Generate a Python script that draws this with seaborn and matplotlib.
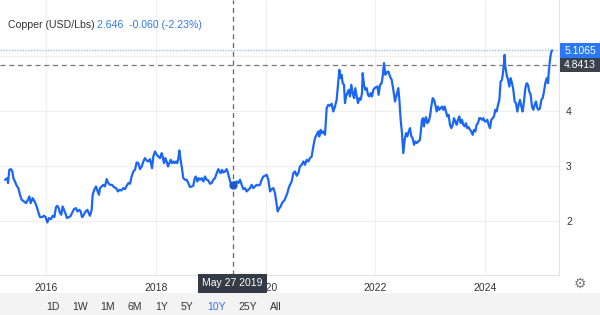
import matplotlib
matplotlib.use("Agg")
import matplotlib.pyplot as plt
import matplotlib.patches as mpatches
import seaborn as sns
import pandas as pd

# ---------------- data (decimal year, USD/lb) ----------------
years = [
    2015.253, 2015.296, 2015.308, 2015.332, 2015.362, 2015.387, 2015.405, 2015.435, 2015.466, 2015.496,
    2015.526, 2015.557, 2015.599, 2015.636, 2015.672, 2015.696, 2015.721, 2015.757, 2015.793, 2015.830,
    2015.866, 2015.891, 2015.927, 2015.963, 2015.994, 2016.024, 2016.055, 2016.091, 2016.121, 2016.152,
    2016.182, 2016.206, 2016.231, 2016.255, 2016.279, 2016.303, 2016.328, 2016.352, 2016.382, 2016.413,
    2016.443, 2016.474, 2016.510, 2016.546, 2016.571, 2016.607, 2016.631, 2016.656, 2016.680, 2016.716,
    2016.753, 2016.777, 2016.801, 2016.832, 2016.850, 2016.880, 2016.911, 2016.941, 2016.965, 2016.983,
    2017.014, 2017.044, 2017.074, 2017.105, 2017.135, 2017.166, 2017.202, 2017.238, 2017.275, 2017.311,
    2017.336, 2017.372, 2017.408, 2017.439, 2017.469, 2017.500, 2017.530, 2017.560, 2017.591, 2017.621,
    2017.651, 2017.682, 2017.712, 2017.743, 2017.773, 2017.803, 2017.834, 2017.864, 2017.894,
    2017.931, 2017.955, 2017.985, 2018.016, 2018.046, 2018.076, 2018.107, 2018.125, 2018.149, 2018.173,
    2018.198, 2018.222, 2018.246, 2018.271, 2018.295, 2018.319, 2018.343, 2018.368, 2018.392, 2018.416,
    2018.428, 2018.447, 2018.471, 2018.501, 2018.532, 2018.562, 2018.592, 2018.623, 2018.653, 2018.683,
    2018.702, 2018.726, 2018.756, 2018.780, 2018.805, 2018.835, 2018.866, 2018.896, 2018.926, 2018.957,
    2018.987, 2019.017, 2019.048, 2019.078, 2019.109, 2019.139, 2019.157, 2019.181, 2019.206, 2019.230,
    2019.260, 2019.291, 2019.315, 2019.339, 2019.363, 2019.400, 2019.442, 2019.473, 2019.503, 2019.533,
    2019.564, 2019.594, 2019.625, 2019.655, 2019.685, 2019.716, 2019.746, 2019.776, 2019.807, 2019.837,
    2019.867, 2019.898, 2019.928, 2019.959, 2019.989, 2020.019, 2020.050, 2020.080, 2020.110, 2020.141,
    2020.171, 2020.201, 2020.220, 2020.250, 2020.274, 2020.299, 2020.323, 2020.347, 2020.371, 2020.396,
    2020.420, 2020.444,
    2020.475, 2020.505, 2020.535, 2020.566, 2020.596, 2020.626, 2020.657, 2020.687, 2020.717, 2020.748,
    2020.778, 2020.808, 2020.839, 2020.869, 2020.899, 2020.930, 2020.960, 2020.978, 2021.003, 2021.027,
    2021.051, 2021.082, 2021.112, 2021.142, 2021.173, 2021.203, 2021.233, 2021.264, 2021.294, 2021.325,
    2021.343, 2021.367, 2021.385, 2021.403, 2021.428, 2021.446, 2021.464, 2021.488, 2021.513, 2021.537,
    2021.561, 2021.586, 2021.610, 2021.634, 2021.659, 2021.683, 2021.707, 2021.731, 2021.756, 2021.768,
    2021.792, 2021.816, 2021.841, 2021.865, 2021.889, 2021.914, 2021.938, 2021.962, 2021.986, 2022.011,
    2022.035, 2022.059, 2022.084, 2022.114, 2022.132, 2022.156, 2022.181, 2022.205, 2022.235, 2022.266,
    2022.296, 2022.326, 2022.357, 2022.387, 2022.417, 2022.436, 2022.460, 2022.484, 2022.508, 2022.533,
    2022.557, 2022.581, 2022.606, 2022.630, 2022.654, 2022.679, 2022.703, 2022.727, 2022.751, 2022.782,
    2022.812,
    2022.830, 2022.848, 2022.867, 2022.885, 2022.903, 2022.921, 2022.946, 2022.970, 2022.994, 2023.018,
    2023.043, 2023.067, 2023.091, 2023.116, 2023.140, 2023.164, 2023.188, 2023.213, 2023.237, 2023.261,
    2023.286, 2023.310, 2023.334, 2023.358, 2023.383, 2023.407, 2023.431, 2023.456, 2023.480, 2023.504,
    2023.528, 2023.553, 2023.577, 2023.601, 2023.626, 2023.650, 2023.674, 2023.698, 2023.723, 2023.747,
    2023.771, 2023.796, 2023.820, 2023.844, 2023.868, 2023.893, 2023.917, 2023.941, 2023.966, 2023.990,
    2024.014, 2024.038, 2024.063, 2024.087, 2024.111, 2024.136, 2024.160, 2024.184, 2024.208, 2024.233,
    2024.257, 2024.281, 2024.306, 2024.330, 2024.354, 2024.366, 2024.391, 2024.415, 2024.439, 2024.463,
    2024.488, 2024.512, 2024.536, 2024.561, 2024.585, 2024.609, 2024.633, 2024.658, 2024.682, 2024.706,
    2024.731, 2024.755, 2024.779, 2024.803, 2024.828, 2024.852, 2024.876, 2024.901, 2024.925, 2024.949,
    2024.973, 2024.998, 2025.022, 2025.046, 2025.071, 2025.095, 2025.119, 2025.144, 2025.156, 2025.180,
    2025.198, 2025.216,
]
price = [
    2.745, 2.775, 2.684, 2.927, 2.939, 2.897, 2.775, 2.714, 2.635, 2.593,
    2.471, 2.380, 2.349, 2.319, 2.380, 2.440, 2.319, 2.410, 2.349, 2.258,
    2.136, 2.063, 2.063, 2.088, 2.063, 1.966, 2.045, 2.027, 2.088, 2.063,
    2.246, 2.270, 2.228, 2.136, 2.106, 2.258, 2.197, 2.136, 2.045, 2.063,
    2.076, 2.136, 2.209, 2.228, 2.167, 2.197, 2.167, 2.063, 2.088, 2.161,
    2.197, 2.136, 2.088, 2.197, 2.471, 2.562, 2.623, 2.532, 2.471, 2.593,
    2.623, 2.653, 2.623, 2.757, 2.684, 2.653, 2.653, 2.611, 2.593, 2.532,
    2.562, 2.550, 2.593, 2.574, 2.635, 2.684, 2.672, 2.805, 2.897, 2.927,
    3.061, 3.049, 2.939, 2.988, 3.079, 3.140, 3.097, 3.079, 3.122,
    2.957, 3.170, 3.262, 3.201, 3.170, 3.140, 3.231, 3.170, 3.049, 3.140,
    3.079, 2.988, 3.049, 3.110, 3.049, 3.079, 3.049, 3.079, 3.049, 3.170,
    3.280, 3.140, 2.988, 2.775, 2.745, 2.745, 2.684, 2.611, 2.623, 2.635,
    2.745, 2.805, 2.714, 2.775, 2.745, 2.775, 2.714, 2.805, 2.745, 2.732,
    2.672, 2.684, 2.745, 2.775, 2.866, 2.939, 2.897, 2.866, 2.927, 2.878,
    2.897, 2.939, 2.866, 2.775, 2.684, 2.646, 2.696, 2.714, 2.684, 2.745,
    2.653, 2.574, 2.593, 2.532, 2.562, 2.593, 2.653, 2.593, 2.623, 2.653,
    2.641, 2.653, 2.745, 2.805, 2.818, 2.836, 2.745, 2.532, 2.574, 2.593,
    2.501, 2.288, 2.167, 2.228, 2.258, 2.319, 2.349, 2.380, 2.440, 2.501,
    2.593, 2.653,
    2.714, 2.866, 2.897, 2.818, 2.866, 2.988, 3.018, 3.079, 3.018, 3.110,
    3.079, 3.140, 3.170, 3.353, 3.505, 3.566, 3.627, 3.536, 3.657, 3.596,
    3.627, 3.566, 4.053, 4.113, 4.095, 4.132, 3.992, 4.083, 4.205, 4.539,
    4.752, 4.600, 4.661, 4.509, 4.478, 4.144, 4.265, 4.326, 4.387, 4.265,
    4.478, 4.326, 4.235, 4.417, 4.265, 4.144, 4.235, 4.205, 4.326, 4.691,
    4.478, 4.387, 4.417, 4.296, 4.265, 4.326, 4.265, 4.387, 4.417, 4.436,
    4.448, 4.296, 4.478, 4.509, 4.630, 4.874, 4.661, 4.703, 4.722, 4.630,
    4.570, 4.387, 4.174, 4.296, 4.417, 4.205, 3.840, 3.596, 3.231, 3.475,
    3.596, 3.536, 3.627, 3.688, 3.536, 3.505, 3.383, 3.444, 3.414, 3.444,
    3.475,
    3.657, 3.839, 3.869, 3.718, 3.839, 3.888, 3.778, 3.809, 3.900, 4.082,
    4.235, 4.204, 4.113, 3.991, 4.082, 4.022, 4.052, 4.082, 4.022, 4.082,
    3.991, 3.900, 3.930, 3.748, 3.687, 3.748, 3.869, 3.809, 3.748, 3.839,
    3.900, 3.778, 3.839, 3.748, 3.718, 3.778, 3.687, 3.705, 3.657, 3.626,
    3.565, 3.657, 3.626, 3.748, 3.778, 3.869, 3.869, 3.839, 3.869, 3.809,
    3.809, 3.839, 3.748, 3.687, 3.839, 3.869, 3.900, 4.022, 3.991, 4.113,
    4.204, 4.539, 4.569, 4.752, 5.025, 4.812, 4.660, 4.569, 4.447, 4.599,
    4.508, 4.387, 4.174, 4.143, 3.991, 4.113, 4.204, 4.082, 3.991, 4.174,
    4.417, 4.508, 4.478, 4.356, 4.295, 4.082, 4.022, 4.113, 4.174, 4.052,
    4.022, 4.052, 4.204, 4.235, 4.356, 4.508, 4.599, 4.508, 4.691, 4.934,
    5.056, 5.1065,
]

x_ticks = [2016, 2018, 2020, 2022, 2024]
x_tick_labels = ["2016", "2018", "2020", "2022", "2024"]
y_ticks = [2, 3, 4, 5]
y_tick_labels = ["2", "3", "4", ""]

title_name = "Copper (USD/Lbs)"
title_quote = "2.646  -0.060 (-2.23%)"
last_price = 5.1065
cursor_price = 4.8413
cursor_year = 2019.40
cursor_value = 2.646
cursor_label = "May 27 2019"
ranges = ["1D", "1W", "1M", "6M", "1Y", "5Y", "10Y", "25Y", "All"]
active_range = "10Y"

# ---------------- style ----------------
sns.set_theme(style="white")
plt.rcParams["font.family"] = ["Liberation Sans", "DejaVu Sans"]

BLUE = "#1a66f5"
TXT = "#333333"
W, H = 600, 315

fig = plt.figure(figsize=(6, 3.15), dpi=100)
fig.patch.set_facecolor("white")

def fx(px):
    return px / W

def fy(py):
    return 1 - py / H

# bottom range-selector band
fig.add_artist(mpatches.Rectangle((0, 0), 1, fy(293), transform=fig.transFigure,
                                  facecolor="#f3f3f3", edgecolor="none", zorder=0))

ax = fig.add_axes([0, fy(275), fx(559), 275 / H])
ax.set_facecolor("white")

df = pd.DataFrame({"year": years, "price": price})
sns.lineplot(data=df, x="year", y="price", ax=ax, color=BLUE, linewidth=1.6, zorder=3)

ax.set_xlim(2015.162, 2025.344)
ax.set_ylim(1.007, 6.026)

ax.set_xticks(x_ticks)
ax.set_xticklabels(x_tick_labels)
ax.set_yticks(y_ticks)
ax.set_yticklabels(y_tick_labels)
ax.yaxis.tick_right()
ax.tick_params(axis="both", length=0, labelsize=7.5, colors=TXT)
ax.tick_params(axis="x", pad=5.5)
ax.tick_params(axis="y", pad=5)
ax.set_xlabel("")
ax.set_ylabel("")
ax.grid(True, color="#efefef", linewidth=0.8)
ax.set_axisbelow(True)

for side in ["top", "left"]:
    ax.spines[side].set_visible(False)
for side in ["right", "bottom"]:
    ax.spines[side].set_color("#e3e3e3")
    ax.spines[side].set_linewidth(0.8)

# reference lines
ax.axhline(last_price, color="#9fc0f7", linestyle=(0, (1, 1)), linewidth=1.0, zorder=2)
ax.axhline(cursor_price, color="#777777", linestyle=(0, (4, 3)), linewidth=0.9, zorder=2)
ax.axvline(cursor_year, color="#666666", linestyle=(0, (4, 3)), linewidth=0.9, zorder=2)
ax.plot([cursor_year], [cursor_value], "o", color="#1f58c7", markersize=5, zorder=4)

# title
fig.text(fx(8), fy(25), title_name, color=TXT, fontsize=7.6, va="center", ha="left")
fig.text(fx(97), fy(25), title_quote, color="#2f78f0", fontsize=7.6, va="center", ha="left")

# price boxes on the right
def box(x0, y0, x1, y1, face, text, tcolor="white", size=7.5):
    fig.add_artist(mpatches.Rectangle((fx(x0), fy(y1)), fx(x1 - x0), (y1 - y0) / H,
                                      transform=fig.transFigure, facecolor=face,
                                      edgecolor="none", zorder=5))
    fig.text(fx((x0 + x1) / 2), fy((y0 + y1) / 2), text, color=tcolor, fontsize=size,
             ha="center", va="center", zorder=6)

box(560, 43, 600, 58, "#2a78f5", f"{last_price:.4f}")
box(560, 58, 600, 72, "#3b424e", f"{cursor_price:.4f}")
box(198, 274, 267, 293, "#343b46", cursor_label)

# range selector
range_x = [53, 80, 108, 135, 162, 187, 217, 248, 276]
for lab, xp in zip(ranges, range_x):
    fig.text(fx(xp), fy(306.5), lab, fontsize=7.5, ha="center", va="center",
             color="#2f6fe8" if lab == active_range else TXT)

# settings gear
fig.text(fx(580), fy(284), "\u2699", fontsize=10, ha="center", va="center",
         color="#777777", family="DejaVu Sans")

fig.savefig("out.png", dpi=100)
